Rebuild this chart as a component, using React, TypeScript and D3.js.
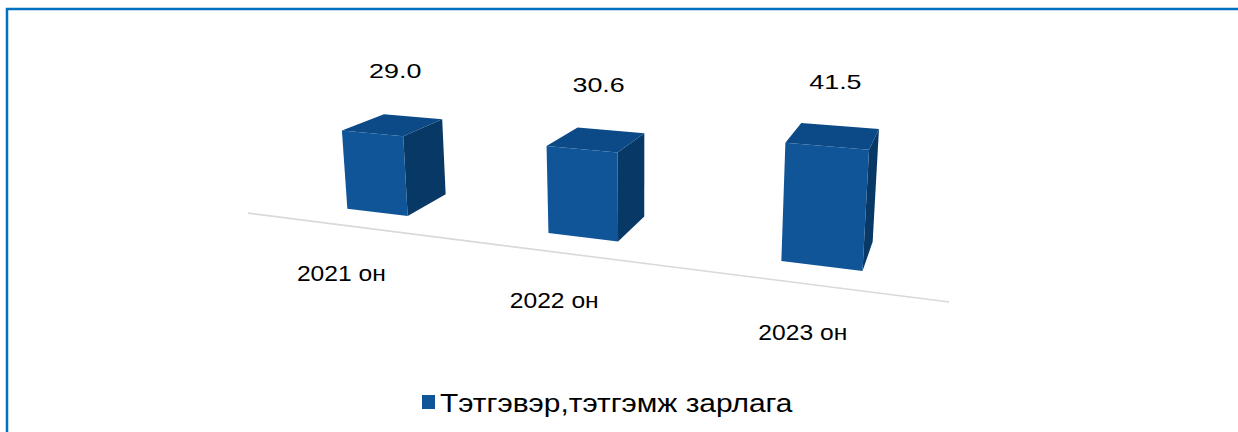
import React from "react";
import * as d3 from "d3";

const categories = ["2021 он", "2022 он", "2023 он"];
const values = [29.0, 30.6, 41.5];
const valueLabels = ["29.0", "30.6", "41.5"];
const seriesName = "Тэтгэвэр,тэтгэмж зарлага";

const W = 1238;
const H = 432;

// simple perspective camera
const cam = {
  cx: 640,
  cy: 118.9,
  f: 1017.7,
  beta: Math.asin(0.231),
  alpha: (18.99 * Math.PI) / 180,
  origin: [-120, -100, 296.4],
};

function project(a: number, n: number, h: number): [number, number] {
  const ca = Math.cos(cam.alpha), sa = Math.sin(cam.alpha);
  const x = cam.origin[0] + a * ca + n * sa;
  const y = cam.origin[1] + h;
  const z = cam.origin[2] - a * sa + n * ca;
  const cb = Math.cos(cam.beta), sb = Math.sin(cam.beta);
  const yc = y * cb + z * sb;
  const zc = -y * sb + z * cb;
  return [cam.cx + (cam.f * x) / zc, cam.cy - (cam.f * yc) / zc];
}

const AXIS_LEN = 206;
const band = d3.scaleBand<string>().domain(categories).range([3, 207]).paddingInner(0.685).paddingOuter(0.3425);
const hScale = d3.scaleLinear().domain([0, 45]).range([7.03, 34.93]);
const depth = d3.scaleLinear().domain([0, 1]).range([13.5, 36.5]);

const FRONT = "#0f5598";
const TOP = "#0b4a86";
const SIDE = "#083865";

const poly = (pts: [number, number][]) => d3.line()(pts.concat([pts[0]])) as string;

export default function App() {
  const n0 = depth(0), n1 = depth(1);
  const axisA = project(0, 0, 0);
  const axisB = project(AXIS_LEN, 0, 0);
  return (
    <svg width={W} height={H} style={{ position: "absolute", left: 0, top: 0, background: "#fff" }}
      fontFamily="Arial, 'Liberation Sans', sans-serif">
      <path d={`M7,${H + 5} L7,9 L${W + 5},9`} fill="none" stroke="#0070c0" strokeWidth={2.5} />
      <line x1={axisA[0]} y1={axisA[1]} x2={axisB[0]} y2={axisB[1]} stroke="#d9d9d9" strokeWidth={1.6} />
      {categories.map((c, i) => {
        const a0 = band(c)!;
        const a1 = a0 + band.bandwidth();
        const hv = hScale(values[i]);
        const front: [number, number][] = [project(a0, n0, 0), project(a1, n0, 0), project(a1, n0, hv), project(a0, n0, hv)];
        const side: [number, number][] = [project(a1, n0, 0), project(a1, n1, 0), project(a1, n1, hv), project(a1, n0, hv)];
        const top: [number, number][] = [project(a0, n0, hv), project(a1, n0, hv), project(a1, n1, hv), project(a0, n1, hv)];
        const tc = project((a0 + a1) / 2, (n0 + n1) / 2, hv);
        const ax = project((a0 + a1) / 2, 0, 0);
        const lx = tc[0] + 2;
        const cxl = ax[0] - 10;
        return (
          <g key={c}>
            <path d={poly(side)} fill={SIDE} />
            <path d={poly(top)} fill={TOP} />
            <path d={poly(front)} fill={FRONT} />
            <text x={lx} y={tc[1] - 47} fontSize={21} textAnchor="middle" fill="#000"
              transform={`translate(${lx},0) scale(1.28,1) translate(${-lx},0)`}>
              {valueLabels[i]}
            </text>
            <text x={cxl} y={ax[1] + 55} fontSize={22} textAnchor="middle" fill="#000"
              transform={`translate(${cxl},0) scale(1.12,1) translate(${-cxl},0)`}>
              {c}
            </text>
          </g>
        );
      })}
      <rect x={422} y={395} width={13} height={14} fill={FRONT} />
      <text x={440} y={412} fontSize={26} fill="#000"
        transform={`translate(440,0) scale(1.15,1) translate(-440,0)`}>
        {seriesName}
      </text>
    </svg>
  );
}
